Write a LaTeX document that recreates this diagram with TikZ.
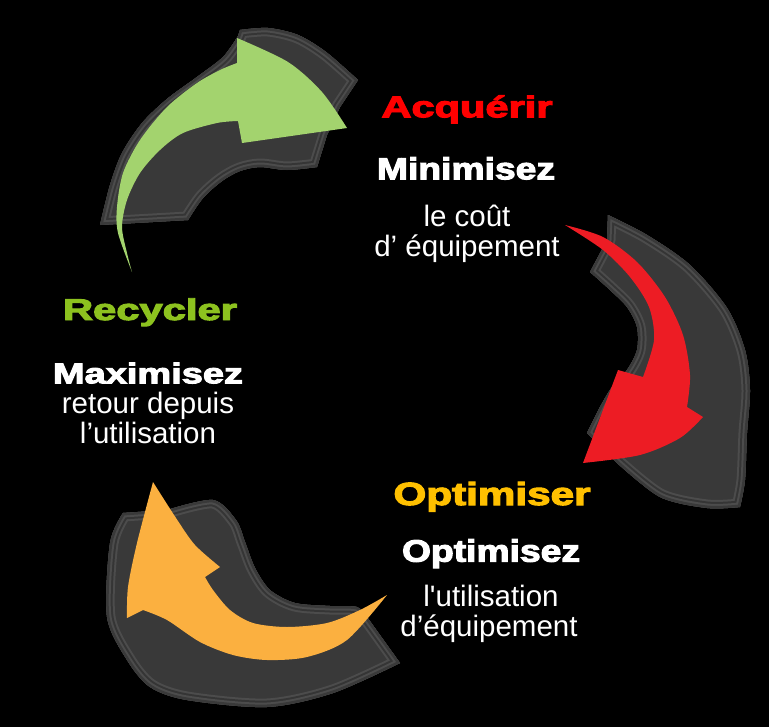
\documentclass[tikz,border=0pt]{standalone}
\usepackage{fontspec}
\usepackage{graphicx}
\setmainfont{Liberation Sans}[Ligatures=TeXOff]
\newfontfamily\heavy[FakeBold=3.2]{Liberation Sans Bold}
\definecolor{arrgreen}{HTML}{A3D36E}
\definecolor{arrred}{HTML}{ED1C24}
\definecolor{arrorange}{HTML}{FBB040}
\definecolor{txtred}{HTML}{FF0000}
\definecolor{txtgreen}{HTML}{8DC21F}
\definecolor{txtorange}{HTML}{FFC000}
\definecolor{extr}{HTML}{393939}
\definecolor{bandA}{HTML}{4C4C4C}
\definecolor{bandB}{HTML}{353535}
\tikzset{
  title/.style={anchor=base, inner sep=0pt, font=\heavy\fontsize{30bp}{36bp}\selectfont},
  body/.style={anchor=base, inner sep=0pt, text=white, font=\fontsize{29.5bp}{35bp}\selectfont},
  extrfill/.style={fill=extr},
  bandwide/.style={draw=bandA, line width=17bp, line join=round},
  bandmid/.style={draw=bandB, line width=13bp, line join=round},
  bandthin/.style={draw=bandA, line width=9bp, line join=round},
  bandin/.style={draw=extr, line width=5bp, line join=round},
}
\newcommand{\extrusion}[1]{%
  \fill[extrfill] #1;
  \begin{scope}
    \clip #1;
    \draw[bandwide] #1;
    \draw[bandmid] #1;
    \draw[bandthin] #1;
    \draw[bandin] #1;
  \end{scope}}
\def\greenext{plot[smooth] coordinates {(100,225) (110,185) (122,153) (142,123) (167,99) (197,77) (223,57) (238,36)}
  -- plot[smooth] coordinates {(240,30) (268,28) (298,35) (326,52) (358,80)}
  -- (340,107) -- (327,135)
  -- plot[smooth] coordinates {(317,167) (287,170) (260,167) (240,171) (222,181) (203,198) (188,220)}
  -- cycle}
\def\redext{plot[smooth] coordinates {(608,215) (647,235) (690,265) (727,308) (745,350) (750,390) (747,433) (745,480) (740,507)}
  -- plot[smooth] coordinates {(740,507) (707,508) (660,497) (617,463)}
  -- plot[smooth] coordinates {(587,433) (600,407) (612,387) (627,370) (637,350) (637,327) (627,307) (610,290) (590,272)}
  -- (607,240) -- cycle}
\def\orangeext{plot[smooth] coordinates {(167,510) (213,500) (236,520) (245,542) (255,568) (270,590) (295,603) (330,606) (357,607) (367,617)}
  -- (400,663)
  -- plot[smooth] coordinates {(400,663) (333,693) (267,707) (187,700) (150,687) (127,660) (107,617) (110,543) (123,513)}
  -- cycle}
\begin{document}
\begin{tikzpicture}[x=1bp,y=-1bp]
\fill[black] (0,0) rectangle (769,727);
\useasboundingbox (0,0) rectangle (769,727);

% ---------- extrusions (grey 3D bodies) ----------
\extrusion{\greenext}
\extrusion{\redext}
\extrusion{\orangeext}

% ---------- coloured arrows ----------
% green (Recycler -> Acquerir)
\fill[arrgreen] plot[smooth] coordinates {(132,272) (118,233) (117,207) (123,173) (140,140) (167,107) (197,83) (220,70) (237,63)}
  -- (237,38)
  -- plot[smooth] coordinates {(237,38) (288,62) (322,92) (347,128)}
  -- (242,143) -- (238,121)
  -- plot[smooth] coordinates {(238,121) (217,123) (183,133) (160,150) (140,173) (127,200) (122,227) (127,253) (132,272)}
  -- cycle;
% red (Acquerir -> Optimiser)
\fill[arrred] plot[smooth] coordinates {(565,225) (603,237) (637,262) (665,297) (683,335) (690,375) (687,407)}
  -- (703,417)
  -- plot[smooth] coordinates {(703,417) (680,438) (640,455) (583,463)}
  -- (618,370) -- (643,377)
  -- plot[smooth] coordinates {(643,377) (654,340) (649,307) (630,277) (603,250) (565,225)}
  -- cycle;
% orange (Optimiser -> Recycler)
\fill[arrorange] plot[smooth] coordinates {(153,482) (137,543) (128,587) (127,618)}
  -- (143,610)
  -- plot[smooth] coordinates {(143,610) (167,620) (200,642) (233,655) (267,660) (307,657) (347,640) (387,595)}
  -- plot[smooth] coordinates {(387,595) (360,610) (327,623) (287,627) (253,623) (230,610) (213,590) (205,577)}
  -- (220,567)
  -- plot[smooth] coordinates {(220,567) (195,545) (176,518) (153,482)}
  -- cycle;

% ---------- texts ----------
\node[title, text=txtred] (acq) at (467,117.3) {\resizebox{171bp}{\height}{Acquérir}};
\node[title, text=white, font=\heavy\fontsize{30.5bp}{36bp}\selectfont] (acqs) at (466,179.3) {\resizebox{178bp}{\height}{Minimisez}};
\node[body] (acq1) at (467,226.7) {le coût};
\node[body] (acq2) at (467,256.7) {d’ équipement};

\node[title, text=txtgreen] (rec) at (150,320) {\resizebox{174bp}{\height}{Recycler}};
\node[title, text=white, font=\heavy\fontsize{28.5bp}{34bp}\selectfont] (recs) at (148,383.3) {\resizebox{190bp}{\height}{Maximisez}};
\node[body] (rec1) at (148,413.3) {retour depuis};
\node[body] (rec2) at (148,443.3) {l’utilisation};

\node[title, text=txtorange, font=\heavy\fontsize{32bp}{38bp}\selectfont] (opt) at (492,505) {\resizebox{197bp}{\height}{Optimiser}};
\node[title, text=white, font=\heavy\fontsize{31bp}{37bp}\selectfont] (opts) at (491,561.7) {\resizebox{178bp}{\height}{Optimisez}};
\node[body] (opt1) at (491,606.7) {l'utilisation};
\node[body] (opt2) at (489,636) {d’équipement};
\end{tikzpicture}
\end{document}
